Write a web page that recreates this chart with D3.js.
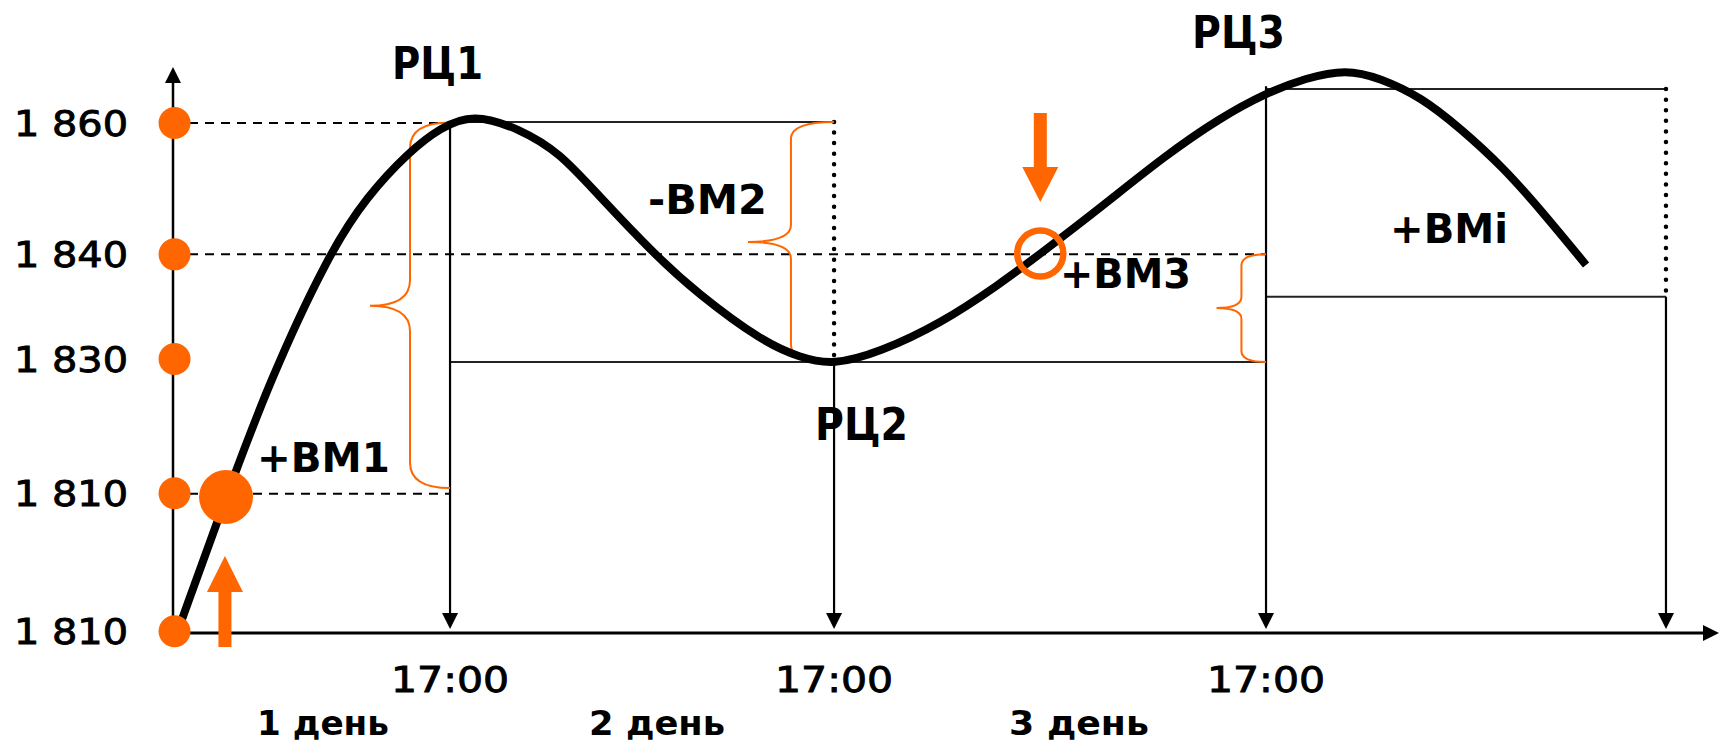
<!DOCTYPE html>
<html>
<head>
<meta charset="utf-8">
<script src="https://cdn.jsdelivr.net/npm/d3@7"></script>
<style>
  html, body { margin: 0; padding: 0; background: #fff; }
  svg { display: block; }
</style>
</head>
<body>
<svg id="chart"></svg>
<script>
// Schematic chart: time runs 0..100 along x, price level 0..100 along y
const curveTime  = [0.45, 3.43, 6.27, 10.03, 12.55, 15.33, 17.27, 19.40, 22.45, 25.03, 27.43, 31.18, 33.89, 38.16, 40.56, 42.69,
                    45.73, 49.61, 53.49, 56.08, 59.96, 64.23, 67.72, 70.70, 73.29, 75.87, 78.07, 80.72, 83.25, 86.03, 88.75, 91.40];
const curveLevel = [1.41, 24.03, 44.70, 66.78, 77.21, 85.16, 89.22, 91.80, 89.05, 84.81, 77.56, 66.78, 60.07, 51.41, 48.68, 47.30,
                    49.65, 54.59, 61.66, 66.96, 75.09, 84.45, 90.99, 95.41, 98.06, 99.60, 98.06, 94.70, 89.22, 82.33, 73.85, 65.02];

const tickLabels = ['1 860', '1 840', '1 830', '1 810', '1 810'];
const tickLevels = [90.1, 66.9, 48.4, 24.7, 0.3];

const closeTimes  = [17.92, 42.76, 70.70, 96.57];   // 17:00 каждого дня
const closeLabels = ['17:00', '17:00', '17:00'];
const dayLabels   = ['1 день', '2 день', '3 день'];
const dayTimes    = [9.70, 31.31, 58.60];

const rcNames   = ['РЦ1', 'РЦ2', 'РЦ3'];
const rcLevels  = [90.3, 47.9, 96.1];
const bmNames   = ['+ВМ1', '-ВМ2', '+ВМ3', '+ВМi'];
const entryTime = [3.43, 56.10];      // точки входа
const entryLevel = [24.03, 67.05];
const bm1Level = 24.6;
const bm3Level = 66.9;
const lastLow  = 59.4;

const W = 1719, H = 743;
const orange = '#ff6600';

const svg = d3.select('#chart').attr('width', W).attr('height', H);

const x = d3.scaleLinear().domain([0, 100]).range([173, 1719]);
const y = d3.scaleLinear().domain([0, 100]).range([633, 67]);

const g = svg.append('g');

// Пунктирные уровни от оси
const dashed = [
  [0, closeTimes[0], tickLevels[0]],
  [0, closeTimes[2], bm3Level],
  [0, closeTimes[0], bm1Level],
];
g.selectAll('.dash').data(dashed).enter().append('line')
  .attr('x1', d => x(d[0])).attr('x2', d => x(d[1]))
  .attr('y1', d => y(d[2])).attr('y2', d => y(d[2]))
  .attr('stroke', '#000').attr('stroke-width', 2).attr('stroke-dasharray', '9,7');

// Горизонтальные линии расчетных цен
const hlines = [
  [closeTimes[0], closeTimes[1], rcLevels[0]],
  [closeTimes[0], closeTimes[2], rcLevels[1]],
  [closeTimes[2], closeTimes[3], rcLevels[2]],
  [closeTimes[2], closeTimes[3], lastLow],
];
g.selectAll('.hl').data(hlines).enter().append('line')
  .attr('x1', d => x(d[0])).attr('x2', d => x(d[1]))
  .attr('y1', d => y(d[2])).attr('y2', d => y(d[2]))
  .attr('stroke', '#222').attr('stroke-width', 2);

// Вертикальные стрелки к 17:00
const vTops = [rcLevels[0], rcLevels[1], 96.6, lastLow];
const tipY = 629;
closeTimes.forEach((t, i) => {
  const cx = x(t);
  g.append('line')
    .attr('x1', cx).attr('x2', cx)
    .attr('y1', y(vTops[i])).attr('y2', tipY - 10)
    .attr('stroke', '#000').attr('stroke-width', 2.2);
  g.append('path')
    .attr('d', `M${cx - 8},${tipY - 16}L${cx + 8},${tipY - 16}L${cx},${tipY}Z`)
    .attr('fill', '#000');
});

// Точечные линии
const dotted = [
  [closeTimes[1], rcLevels[0], rcLevels[1]],
  [closeTimes[3], rcLevels[2], lastLow],
];
g.selectAll('.dot').data(dotted).enter().append('line')
  .attr('x1', d => x(d[0])).attr('x2', d => x(d[0]))
  .attr('y1', d => y(d[1])).attr('y2', d => y(d[2]))
  .attr('stroke', '#000').attr('stroke-width', 4.5)
  .attr('stroke-linecap', 'round').attr('stroke-dasharray', '0,10.6');

// Фигурные скобки
function brace(endT, top, bottom, vertT, tipT, tipL) {
  const ex = x(endT), vx = x(vertT), tx = x(tipT);
  const y0 = y(top), y1 = y(bottom), ym = y(tipL);
  const h = Math.max(11, (y1 - y0) * 0.07);
  return `M${ex},${y0}Q${vx},${y0} ${vx},${y0 + h}` +
    `L${vx},${ym - h}Q${vx},${ym} ${tx},${ym}` +
    `Q${vx},${ym} ${vx},${ym + h}` +
    `L${vx},${y1 - h}Q${vx},${y1} ${ex},${y1}`;
}
const braces = [
  [closeTimes[0], 90.2, 25.6, 15.33, 12.74, 57.8],
  [closeTimes[1], rcLevels[0], rcLevels[1], 39.97, 37.19, 69.1],
  [closeTimes[2], bm3Level, rcLevels[1], 69.11, 67.50, 57.4],
];
g.selectAll('.brace').data(braces).enter().append('path')
  .attr('d', d => brace(...d))
  .attr('fill', 'none').attr('stroke', orange).attr('stroke-width', 2);

// Кривая цены
const line = d3.line().x((d, i) => x(curveTime[i])).y(d => y(d)).curve(d3.curveBasis);
g.append('path')
  .datum(curveLevel)
  .attr('d', line)
  .attr('fill', 'none').attr('stroke', '#000').attr('stroke-width', 8);

// Оси
g.append('line').attr('x1', x(0)).attr('x2', x(0)).attr('y1', y(0)).attr('y2', y(100) + 12)
  .attr('stroke', '#000').attr('stroke-width', 2.5);
g.append('path').attr('d', `M${x(0) - 8},${y(100) + 16}L${x(0) + 8},${y(100) + 16}L${x(0)},${y(100)}Z`);
g.append('line').attr('x1', x(0)).attr('x2', x(100) - 10).attr('y1', y(0)).attr('y2', y(0))
  .attr('stroke', '#000').attr('stroke-width', 3);
g.append('path').attr('d', `M${x(100) - 16},${y(0) - 8}L${x(100) - 16},${y(0) + 8}L${x(100)},${y(0)}Z`);

// Оранжевые точки на оси
g.selectAll('.tickdot').data(tickLevels).enter().append('circle')
  .attr('cx', x(0.1)).attr('cy', d => y(d)).attr('r', 16).attr('fill', orange);

// Подписи оси Y
g.selectAll('.ticklab').data(tickLabels).enter().append('text')
  .attr('x', 128).attr('y', (d, i) => y(tickLevels[i]))
  .attr('dy', '0.36em').attr('text-anchor', 'end')
  .attr('font-family', 'DejaVu Sans').attr('font-size', 36)
  .attr('stroke', '#000').attr('stroke-width', 0.9)
  .attr('textLength', 114).attr('lengthAdjust', 'spacingAndGlyphs')
  .text(d => d);

// Точка входа и кружок
g.append('circle').attr('cx', x(entryTime[0])).attr('cy', y(entryLevel[0])).attr('r', 27).attr('fill', orange);
g.append('circle').attr('cx', x(entryTime[1])).attr('cy', y(entryLevel[1])).attr('r', 23)
  .attr('fill', 'none').attr('stroke', orange).attr('stroke-width', 6.5);

// Оранжевые стрелки
function fatArrow(cx, tip, headBase, tail) {
  return `M${cx},${tip}L${cx + 18},${headBase}L${cx + 6.5},${headBase}L${cx + 6.5},${tail}` +
    `L${cx - 6.5},${tail}L${cx - 6.5},${headBase}L${cx - 18},${headBase}Z`;
}
g.append('path').attr('d', fatArrow(x(3.36), 556, 592, 647)).attr('fill', orange);
g.append('path').attr('d', fatArrow(x(56.10), 202, 167, 113)).attr('fill', orange);

// Подписи
const bold = (sel) => sel.attr('font-family', 'DejaVu Sans').attr('font-weight', 'bold')
  .attr('lengthAdjust', 'spacingAndGlyphs');

const rcPos = [[14.17, 97.88, 91], [41.53, 34.10, 93], [65.91, 103.36, 93]];
rcNames.forEach((n, i) => {
  g.append('text').call(bold).attr('font-size', 44)
    .attr('x', x(rcPos[i][0])).attr('y', y(rcPos[i][1]))
    .attr('textLength', rcPos[i][2]).text(n);
});

const bmPos = [[5.43, 28.45, 133], [30.72, 74.03, 119], [57.37, 60.95, 131], [78.72, 68.90, 118]];
bmNames.forEach((n, i) => {
  g.append('text').call(bold).attr('font-size', 41)
    .attr('x', x(bmPos[i][0])).attr('y', y(bmPos[i][1]))
    .attr('textLength', bmPos[i][2]).text(n);
});

// Подписи оси X
closeLabels.forEach((n, i) => {
  g.append('text').attr('font-family', 'DejaVu Sans').attr('font-size', 36)
    .attr('stroke', '#000').attr('stroke-width', 0.9)
    .attr('x', x(closeTimes[i]) - 59).attr('y', 692)
    .attr('textLength', 118).attr('lengthAdjust', 'spacingAndGlyphs').text(n);
});
const dayW = [132, 136, 140];
dayLabels.forEach((n, i) => {
  g.append('text').call(bold).attr('font-size', 33)
    .attr('x', x(dayTimes[i]) - dayW[i] / 2).attr('y', 735)
    .attr('textLength', dayW[i]).text(n);
});
</script>
</body>
</html>
